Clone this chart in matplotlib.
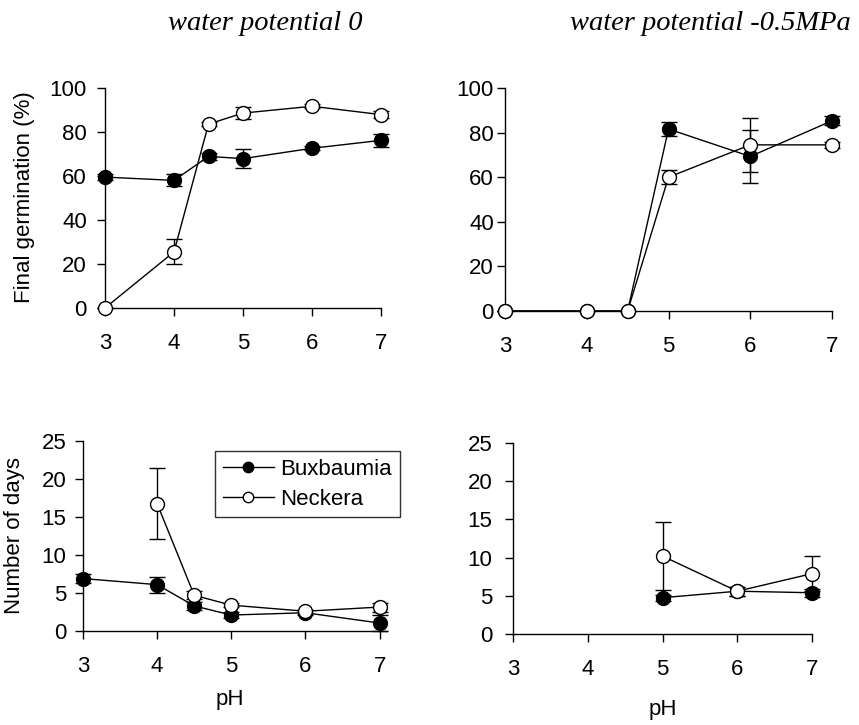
import numpy as np
import matplotlib

matplotlib.use("Agg")
import matplotlib.pyplot as plt

plt.rcParams["font.family"] = ["Liberation Sans", "DejaVu Sans"]

# germination (%) panels
ph_germ = [3, 4, 4.5, 5, 6, 7]
germ_w0_bux = [59.5, 58.0, 68.9, 67.9, 72.6, 76.2]
germ_w0_bux_err = [1.5, 2.7, 1.5, 4.3, 1.0, 2.9]
germ_w0_nec = [0, 25.5, 83.6, 88.6, 91.7, 87.9]
germ_w0_nec_err = [0, 5.7, 1.0, 2.9, 1.0, 1.5]
germ_w05_bux = [0, 0, 0, 81.6, 69.3, 85.3]
germ_w05_bux_err = [0, 0, 0, 3.2, 11.8, 2.0]
germ_w05_nec = [0, 0, 0, 60.0, 74.5, 74.5]
germ_w05_nec_err = [0, 0, 0, 3.2, 12.0, 1.5]

# days to germination panels
ph_days_w0 = [3, 4, 4.5, 5, 6, 7]
days_w0_bux = [6.9, 6.1, 3.3, 2.1, 2.4, 1.05]
days_w0_bux_err = [0.6, 1.05, 0.5, 0.4, 0.3, 1.1]
days_w0_nec = [np.nan, 16.75, 4.7, 3.4, 2.6, 3.15]
days_w0_nec_err = [np.nan, 4.7, 0.5, 0.3, 0.2, 0.6]
ph_days_w05 = [5, 6, 7]
days_w05_bux = [4.75, 5.6, 5.4]
days_w05_bux_err = [0.4, 0.6, 0.5]
days_w05_nec = [10.2, 5.6, 7.9]
days_w05_nec_err = [4.5, 0.6, 2.3]

x_ticks = [3, 4, 5, 6, 7]
series_names = ["Buxbaumia", "Neckera"]
title_left = "water potential 0"
title_right = "water potential -0.5MPa"

W, H = 859, 725
FS = 16
fig = plt.figure(figsize=(W / 100, H / 100), dpi=100)


def px_axes(x0, y0, x1, y1):
    return fig.add_axes([x0 / W, 1 - y1 / H, (x1 - x0) / W, (y1 - y0) / H])


def draw_series(ax, x, y, err, filled, label):
    x = np.asarray(x, float)
    y = np.asarray(y, float)
    err = np.asarray(err, float)
    ax.errorbar(x, y, yerr=err, fmt="none", ecolor="black", elinewidth=1.0,
                capsize=5.5, capthick=1.0, zorder=2, clip_on=False)
    face = "black" if filled else "white"
    ax.plot(x, y, color="black", lw=1.0, marker="o", ms=10, mfc=face,
            mec="black", mew=1.0, zorder=3, clip_on=False, label=label)


def style(ax, xmax, ymax, ystep, xpad, ypad):
    ax.set_xlim(3, xmax)
    ax.set_ylim(0, ymax)
    ax.set_xticks(x_ticks)
    ax.set_yticks(np.arange(0, ymax + 0.1, ystep))
    for s in ["top", "right"]:
        ax.spines[s].set_visible(False)
    for s in ["left", "bottom"]:
        ax.spines[s].set_linewidth(1.0)
    ax.tick_params(axis="x", direction="out", length=6, width=1, labelsize=FS, pad=xpad)
    ax.tick_params(axis="y", direction="out", length=6, width=1, labelsize=FS, pad=ypad)


ax1 = px_axes(105, 88, 381, 308)
draw_series(ax1, ph_germ, germ_w0_bux, germ_w0_bux_err, True, series_names[0])
draw_series(ax1, ph_germ, germ_w0_nec, germ_w0_nec_err, False, series_names[1])
style(ax1, 7, 100, 20, 12, 7)

ax2 = px_axes(505, 88, 832, 311)
draw_series(ax2, ph_germ, germ_w05_bux, germ_w05_bux_err, True, series_names[0])
draw_series(ax2, ph_germ, germ_w05_nec, germ_w05_nec_err, False, series_names[1])
style(ax2, 7, 100, 20, 12, 2)

ax3 = px_axes(83, 441, 387, 631)
draw_series(ax3, ph_days_w0, days_w0_bux, days_w0_bux_err, True, series_names[0])
draw_series(ax3, ph_days_w0, days_w0_nec, days_w0_nec_err, False, series_names[1])
style(ax3, 7.1, 25, 5, 12, 6)

ax4 = px_axes(513, 443, 812, 634)
draw_series(ax4, ph_days_w05, days_w05_bux, days_w05_bux_err, True, series_names[0])
draw_series(ax4, ph_days_w05, days_w05_nec, days_w05_nec_err, False, series_names[1])
style(ax4, 7, 25, 5, 12, 9)

leg = ax3.legend(loc="upper left", bbox_to_anchor=((215 - 83) / 304, (631 - 451) / 190),
                 fontsize=FS, frameon=True, fancybox=False, edgecolor="black",
                 markerscale=0.75, handlelength=2.3, borderpad=0.35,
                 labelspacing=0.4, handletextpad=0.3, borderaxespad=0)
leg.get_frame().set_linewidth(1.0)

fig.text(265 / W, 1 - 24 / H, title_left, ha="center", va="center",
         fontsize=20.5, style="italic", family="Liberation Serif")
fig.text(710 / W, 1 - 24 / H, title_right, ha="center", va="center",
         fontsize=20.5, style="italic", family="Liberation Serif")

fig.text(25 / W, 1 - 197 / H, "Final germination (%)", rotation=90,
         ha="center", va="center", fontsize=FS)
fig.text(15 / W, 1 - 535 / H, "Number of days", rotation=90,
         ha="center", va="center", fontsize=FS)
fig.text(230 / W, 1 - 700 / H, "pH", ha="center", va="center", fontsize=FS)
fig.text(663 / W, 1 - 710 / H, "pH", ha="center", va="center", fontsize=FS)

fig.savefig("out.png", dpi=100)
